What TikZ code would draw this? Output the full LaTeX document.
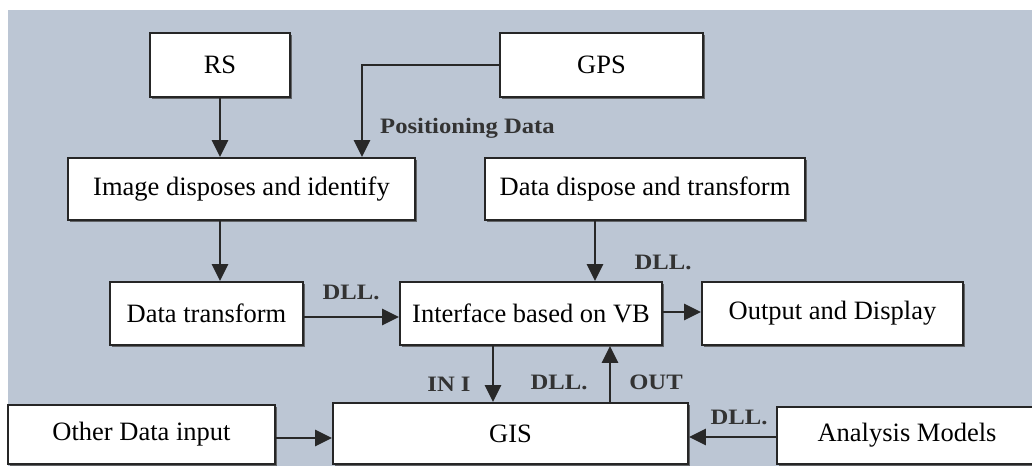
\documentclass[tikz,border=0pt]{standalone}
\usepackage{fontspec}
\setmainfont{Liberation Serif}
\usetikzlibrary{arrows.meta,shadows}
\definecolor{bgc}{RGB}{188,198,212}
\definecolor{linec}{RGB}{40,40,40}
\tikzset{
  box/.style={draw=black!85, line width=1.8pt, fill=white, inner sep=0pt,
    font=\fontsize{26.5}{30}\selectfont,
    drop shadow={shadow xshift=1.8pt, shadow yshift=-1.8pt, fill=black!70, opacity=0.8}},
  arr/.style={draw=linec, line width=2.8pt, -{Triangle[length=17pt,width=16pt]}},
  lbl/.style={inner sep=0pt, font=\fontsize{22}{26}\selectfont\bfseries\addfontfeature{FakeStretch=1.12}, text=black!80}
}
\begin{document}
\begin{tikzpicture}[x=1pt,y=-1pt]
\useasboundingbox (0,0) rectangle (1032,466);
\clip (0,0) rectangle (1032,466);
\fill[white] (0,0) rectangle (1032,466);
\fill[bgc] (8,10) rectangle (1032,466);

\node[box, minimum width=140pt, minimum height=64pt] (rs) at (220,65) {RS};
\node[box, minimum width=203pt, minimum height=64pt] (gps) at (601.5,65) {GPS};
\node[box, minimum width=347pt, minimum height=62pt] (img) at (241.5,189) {Image disposes and identify};
\node[box, minimum width=320pt, minimum height=62pt] (dd) at (645,189) {Data dispose and transform};
\node[box, minimum width=193pt, minimum height=63pt] (dt) at (206.5,313.5) {Data transform};
\node[box, minimum width=262pt, minimum height=63pt] (vb) at (531,313.5) {Interface based on VB};
\node[box, minimum width=261pt, minimum height=63pt] (out) at (832.5,313.5) {Output and Display};
\node[box, minimum width=267pt, minimum height=59pt] (other) at (141.5,434.5) {Other Data input};
\node[box, minimum width=355pt, minimum height=61pt] (gis) at (510.5,433.5) {GIS};
\node[box, minimum width=260pt, minimum height=57pt] (ana) at (907,435.5) {Analysis Models};

\draw[arr] (rs.south) -- (rs.south |- img.north);
\draw[arr] (gps.west) -| ([xshift=120.5pt]img.north);
\draw[arr] (rs.south |- img.south) -- (rs.south |- dt.north);
\draw[arr] ([xshift=-50pt]dd.south) -- ([xshift=-50pt]dd.south |- vb.north);
\draw[arr] ([yshift=-3.5pt]dt.east) -- ([yshift=-3.5pt]dt.east -| vb.west);
\draw[arr] ([yshift=1.5pt]vb.east) -- ([yshift=1.5pt]vb.east -| out.west);
\draw[arr] ([xshift=-38pt]vb.south) -- ([xshift=-38pt]vb.south |- gis.north);
\draw[arr] ([xshift=99.5pt]gis.north) -- ([xshift=99.5pt]gis.north |- vb.south);
\draw[arr] ([yshift=-3.5pt]other.east) -- ([yshift=-3.5pt]other.east -| gis.west);
\draw[arr] ([yshift=-1.5pt]ana.west) -- ([yshift=-1.5pt]ana.west -| gis.east);

\node[lbl, anchor=west] (lpos) at (380,128) {Positioning Data};
\node[lbl] (ldll1) at (351,292) {DLL.};
\node[lbl] (ldll2) at (663,262) {DLL.};
\node[lbl] (lin) at (449,384) {IN I};
\node[lbl] (ldll3) at (559,382) {DLL.};
\node[lbl] (lout) at (656,382) {OUT};
\node[lbl] (ldll4) at (739,417) {DLL.};
\end{tikzpicture}
\end{document}
